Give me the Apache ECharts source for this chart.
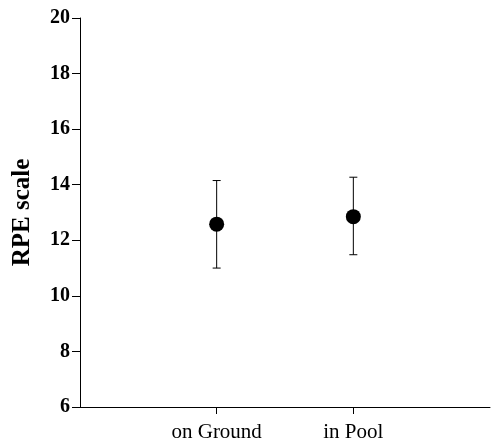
<!DOCTYPE html>
<html>
<head>
<meta charset="utf-8">
<script src="https://cdn.jsdelivr.net/npm/echarts@6/dist/echarts.min.js"></script>
<style>
  html, body { margin: 0; padding: 0; background: #fff; }
  #chart { width: 493px; height: 443px; }
</style>
</head>
<body>
<div id="chart"></div>
<script>
// Conditions and RPE values (mean with lower/upper error bar ends)
const categories = ['on Ground', 'in Pool'];
const means = [12.58, 12.85];
const errLow = [11.0, 11.48];
const errHigh = [14.15, 14.27];
const yTicks = [6, 8, 10, 12, 14, 16, 18, 20];

// Pad the category axis with empty slots on both ends
const axisCats = [''].concat(categories, ['']);

const pointData = categories.map((c, i) => [c, means[i]]);
const barData = categories.map((c, i) => [c, errLow[i], errHigh[i]]);

const serif = 'Liberation Serif';
const chart = echarts.init(document.getElementById('chart'));

chart.setOption({
  animation: false,
  backgroundColor: '#fff',
  grid: { left: 80, right: 0, top: 18, bottom: 36, containLabel: false },
  xAxis: {
    type: 'category',
    data: axisCats,
    boundaryGap: false,
    axisLine: { lineStyle: { color: '#000', width: 1 } },
    axisTick: {
      length: 7,
      interval: (idx) => idx > 0 && idx <= categories.length,
      lineStyle: { color: '#000' }
    },
    axisLabel: {
      interval: 0,
      margin: 15,
      color: '#000',
      fontFamily: serif,
      fontSize: 21
    },
    splitLine: { show: false }
  },
  yAxis: {
    type: 'value',
    min: yTicks[0],
    max: yTicks[yTicks.length - 1],
    interval: 2,
    name: 'RPE scale',
    nameLocation: 'middle',
    nameRotate: 90,
    nameGap: 45,
    nameTextStyle: { color: '#000', fontFamily: serif, fontWeight: 'bold', fontSize: 25 },
    axisLine: { show: true, lineStyle: { color: '#000', width: 1 } },
    axisTick: { show: true, inside: false, length: 8, lineStyle: { color: '#000' } },
    axisLabel: {
      margin: 10,
      color: '#000',
      fontFamily: serif,
      fontWeight: 'bold',
      fontSize: 20
    },
    splitLine: { show: false }
  },
  series: [
    {
      type: 'custom',
      data: barData,
      renderItem: function (params, api) {
        const x = api.value(0);
        const lo = api.coord([x, api.value(1)]);
        const hi = api.coord([x, api.value(2)]);
        const cap = 4;
        const style = { stroke: '#000', lineWidth: 1 };
        return {
          type: 'group',
          children: [
            { type: 'line', shape: { x1: lo[0], y1: lo[1], x2: hi[0], y2: hi[1] }, style },
            { type: 'line', shape: { x1: lo[0] - cap, y1: lo[1], x2: lo[0] + cap, y2: lo[1] }, style },
            { type: 'line', shape: { x1: hi[0] - cap, y1: hi[1], x2: hi[0] + cap, y2: hi[1] }, style }
          ]
        };
      },
      z: 2
    },
    {
      type: 'scatter',
      data: pointData,
      symbol: 'circle',
      symbolSize: 15,
      itemStyle: { color: '#000', opacity: 1 },
      z: 3
    }
  ]
});
</script>
</body>
</html>
